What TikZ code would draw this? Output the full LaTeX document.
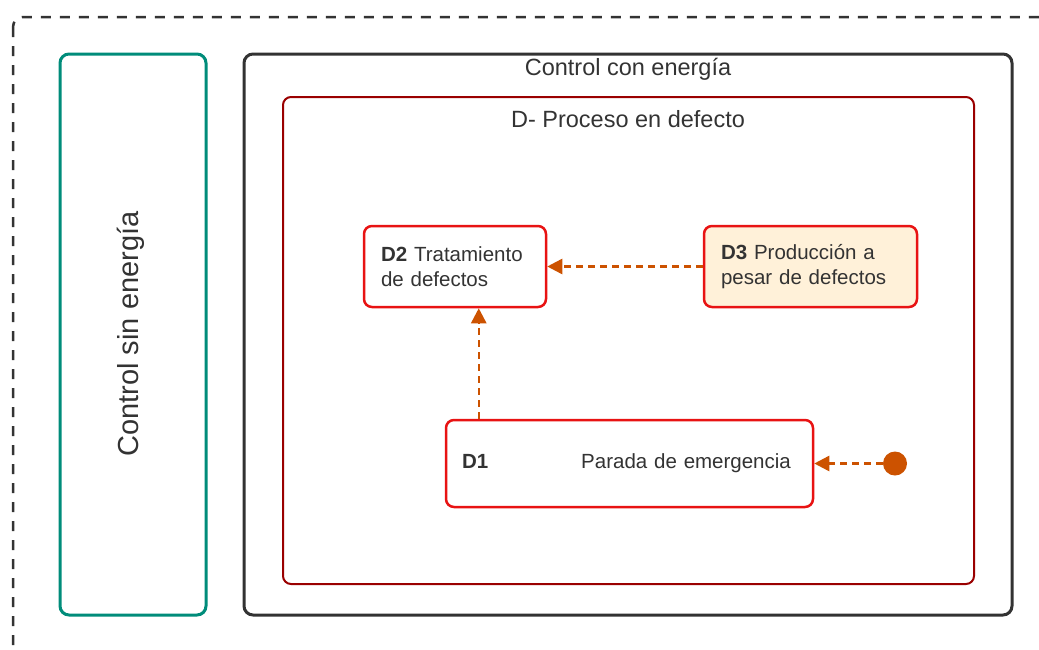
\documentclass[tikz,border=0pt]{standalone}
\usepackage{fontspec}
\setmainfont{Liberation Sans}
\usetikzlibrary{arrows.meta,calc}
\definecolor{txt}{HTML}{333333}
\definecolor{tealc}{HTML}{008C7A}
\definecolor{framec}{HTML}{333333}
\definecolor{dred}{HTML}{9A0000}
\definecolor{nred}{HTML}{E81313}
\definecolor{cream}{HTML}{FFF1D9}
\definecolor{orng}{HTML}{CC5200}
\begin{document}
\begin{tikzpicture}[x=1pt,y=-1pt,
  every node/.style={text=txt, font=\fontsize{20.5}{25}\selectfont},
  box/.style={draw=nred, line width=2.5pt, rounded corners=8pt, fill=white, align=left, inner xsep=17pt, inner ysep=0pt},
  conn/.style={draw=orng, line width=2.5pt, dash pattern=on 7pt off 5pt, -{Triangle[length=15pt,width=15pt]}},
  hdr/.style={font=\fontsize{23.5}{28}\selectfont}]
\useasboundingbox (0,0) rectangle (1039,649);
\begin{scope}
\clip (0,0) rectangle (1039,649);
\draw[framec, line width=2.5pt, dash pattern=on 10pt off 9pt, rounded corners=10pt] (13,17) rectangle (1080,700);
\end{scope}
% containers
\draw[tealc, line width=3pt, rounded corners=9pt] (60,54) rectangle (206,615);
\node[font=\fontsize{29}{34}\selectfont, rotate=90] (lsin) at (131,334) {Control sin energía};
\draw[framec, line width=3pt, rounded corners=9pt] (244,54) rectangle (1012,615);
\node[hdr] (lcon) at (628,69) {Control con energía};
\draw[dred, line width=2pt, rounded corners=8pt] (283,97) rectangle (974,584);
\node[hdr] (lproc) at (628,119) {D- Proceso en defecto};
% nodes
\node[box, text width=148pt, minimum height=81pt] (D2) at (455,266.5) {\textbf{D2} Tratamiento\\de defectos};
\node[box, fill=cream, text width=179pt, minimum height=81pt] (D3) at (810.5,266.5) {\textbf{D3} Producción a\\pesar de defectos};
\node[box, text width=335pt, minimum height=87pt, inner xsep=16pt] (D1) at (629.5,463.5) {\textbf{D1}\hspace{93pt}Parada de emergencia};
\node[circle, fill=orng, minimum size=24pt, inner sep=0pt] (dot) at (895,463.5) {};
% connectors
\draw[conn] (D3.west) -- (D2.east);
\coordinate (a1) at ($(D1.north west)+(34,0)$);
\draw[conn] (a1) -- (a1 |- D2.south);
\draw[conn] (dot) -- (D1.east);
\end{tikzpicture}
\end{document}
